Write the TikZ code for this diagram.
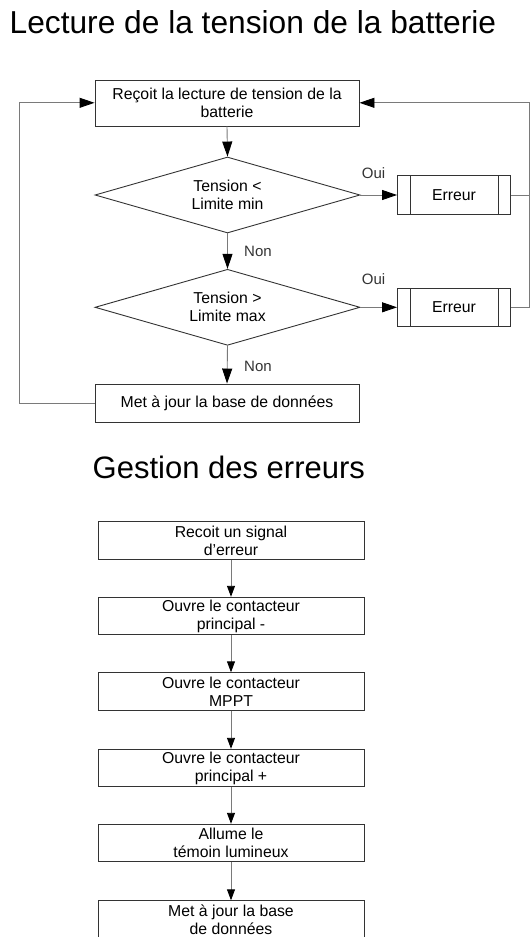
\documentclass[tikz,border=0pt]{standalone}
\usepackage{fontspec}
\setmainfont{Liberation Sans}
\usetikzlibrary{shapes.geometric,arrows.meta}
\definecolor{boxline}{HTML}{333333}
\definecolor{conline}{HTML}{7A7A7A}
\definecolor{lbl}{HTML}{333333}
\begin{document}
\begin{tikzpicture}[x=1pt,y=-1pt,
  txt/.style={font=\fontsize{15.8}{18}\selectfont, align=center, text=black},
  box/.style={txt, draw=boxline, line width=0.9pt, rectangle, inner sep=0pt},
  dec/.style={txt, draw=boxline, line width=0.9pt, diamond, aspect=3.5, inner sep=0pt, minimum width=265pt, minimum height=76pt},
  proc/.style={box, minimum width=113pt, minimum height=38.5pt,
    path picture={
      \draw[boxline, line width=0.9pt] ([xshift=13pt]path picture bounding box.north west) -- ([xshift=13pt]path picture bounding box.south west);
      \draw[boxline, line width=0.9pt] ([xshift=-12.5pt]path picture bounding box.north east) -- ([xshift=-12.5pt]path picture bounding box.south east);}},
  lowbox/.style={box, minimum width=266pt, minimum height=37.5pt},
  con/.style={draw=conline, line width=0.9pt},
  big/.style={-{Triangle[length=15pt,width=10pt,color=black]}},
  small/.style={-{Triangle[length=11pt,width=8pt,color=black]}},
  lab/.style={font=\fontsize{15}{18}\selectfont, text=lbl, inner sep=0pt},
  title/.style={anchor=base west, inner sep=0pt}
]
\useasboundingbox (0,0) rectangle (530,937);

\node[title, font=\fontsize{31.7}{36}\selectfont] (t1) at (9.5,33.3) {Lecture de la tension de la batterie};
\node[title, font=\fontsize{31}{36}\selectfont] (t2) at (92.5,478.3) {Gestion des erreurs};

% upper flowchart
\node[box, minimum width=264pt, minimum height=46pt] (read) at (227,103) {Reçoit la lecture de tension de la\\batterie};
\node[dec] (d1) at (227.5,195) {Tension <\\Limite min};
\node[dec] (d2) at (227.5,307.3) {Tension >\\Limite max};
\node[proc] (e1) at (454,195) {Erreur};
\node[proc] (e2) at (454,307.3) {Erreur};
\node[box, minimum width=264pt, minimum height=38pt] (upd) at (227,403) {Met à jour la base de données};

\coordinate (rtop) at (529,102.8);
\coordinate (ltop) at (19.6,102.8);

\draw[con,big] (read.south) -- (d1.north);
\draw[con,big] (d1.south) -- (d2.north);
\draw[con,big] (d2.south) -- (upd.north);
\draw[con,big] (d1.east) -- (e1.west);
\draw[con,big] (d2.east) -- (e2.west);
\draw[con,big] (e1.east) -| (rtop) -- (read.east |- rtop);
\draw[con] (e2.east) -| (rtop);
\draw[con,big] (upd.west) -| (ltop) -- (read.west |- ltop);

\node[lab] (n1) at (258,251) {Non};
\node[lab] (n2) at (258,366.5) {Non};
\node[lab] (o1) at (373.6,173.5) {Oui};
\node[lab] (o2) at (373.6,278.7) {Oui};

% lower flowchart
\node[lowbox] (b1) at (231,540.5) {Recoit un signal\\d’erreur};
\node[lowbox] (b2) at (231,616) {Ouvre le contacteur\\principal -};
\node[lowbox] (b3) at (231,691.5) {Ouvre le contacteur\\MPPT};
\node[lowbox] (b4) at (231,768) {Ouvre le contacteur\\principal +};
\node[lowbox] (b5) at (231,843) {Allume le\\témoin lumineux};
\node[lowbox] (b6) at (231,919.5) {Met à jour la base\\de données};

\draw[con,small] (b1.south) -- (b2.north);
\draw[con,small] (b2.south) -- (b3.north);
\draw[con,small] (b3.south) -- (b4.north);
\draw[con,small] (b4.south) -- (b5.north);
\draw[con,small] (b5.south) -- (b6.north);
\end{tikzpicture}
\end{document}
